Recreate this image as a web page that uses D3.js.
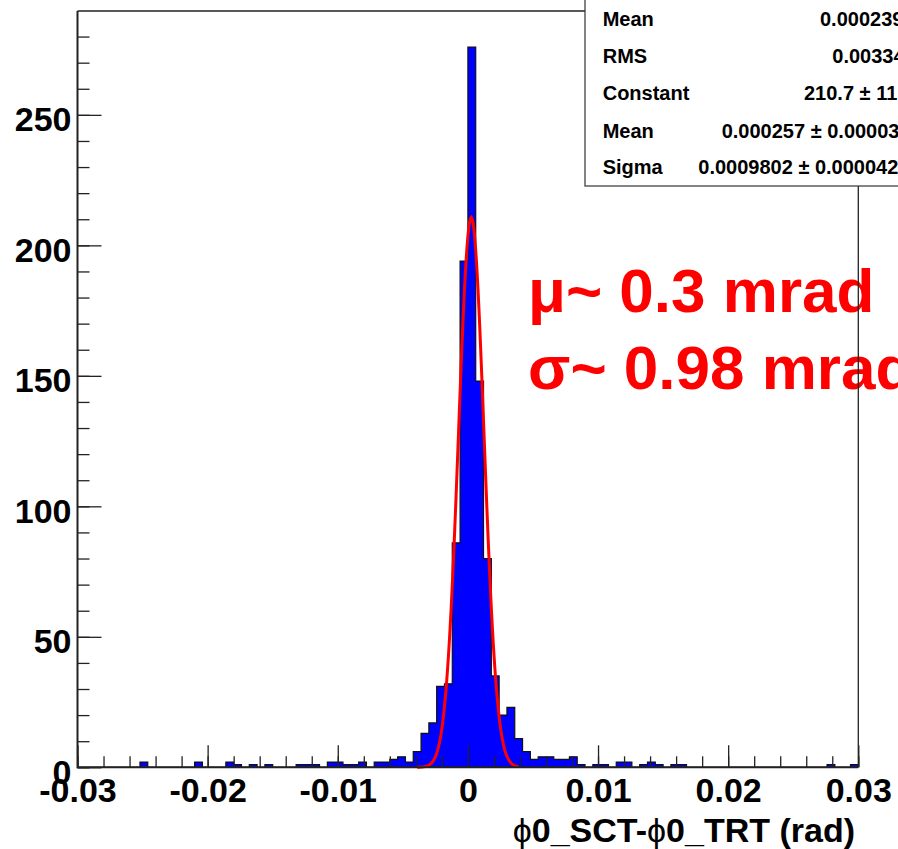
<!DOCTYPE html>
<html>
<head>
<meta charset="utf-8">
<script src="https://cdn.jsdelivr.net/npm/d3@7"></script>
<style>
  html, body { margin: 0; padding: 0; background: #ffffff; }
  svg { display: block; }
</style>
</head>
<body>
<svg id="chart" width="898" height="849"></svg>
<script>
// ---------------- data ----------------
const xDomain = [-0.03, 0.03];           // histogram range (rad)
const yMax = 289.8;                      // y-axis maximum
// 100 bins of 0.0006 rad, counts
const binCounts = [
  0,0,0,0,0,0,0,0,2,0,
  0,0,0,0,0,2,0,0,0,2,
  1,0,1,0,1,0,0,0,1,1,
  1,0,2,2,1,1,2,0,2,2,
  3,4,2,6,13,17,31,32,86,194,
  276,148,80,35,20,23,11,6,3,4,
  4,3,3,4,1,0,1,1,0,2,
  2,0,1,2,1,0,1,1,0,0,
  0,0,0,0,0,0,0,0,0,0,
  0,0,0,0,0,0,1,0,0,1
];
const xMajorTicks = [-0.03, -0.02, -0.01, 0, 0.01, 0.02, 0.03];
const xMinorTicks = d3.range(-15, 16).map(i => i * 0.002);
const yMajorTicks = [0, 50, 100, 150, 200, 250];
const yMinorTicks = d3.range(0, 29).map(i => i * 10);
// Gaussian fit parameters (from the stats box)
const fitConstant = 210.7;
const fitMean = 0.000257;
const fitSigma = 0.0009802;
const fitRange = [-0.0039, 0.0039];
// stats box rows
const statLabels = ["Mean", "RMS", "Constant", "Mean", "Sigma"];
const statValues = ["0.000239", "0.00334", "210.7 \u00b1 11.1", "0.000257 \u00b1 0.000034", "0.0009802 \u00b1 0.0000429"];
const annotations = ["\u03bc~ 0.3 mrad", "\u03c3~ 0.98 mrad"];
const xTitle = ["\u03d5", "0_SCT-", "\u03d5", "0_TRT (rad)"];

// ---------------- layout ----------------
const L = 77.5, R = 858.3, T = 11, B = 767.3;
const FONT = "'Liberation Sans', Arial, Helvetica, sans-serif";

const svg = d3.select("#chart");
svg.append("rect").attr("width", 898).attr("height", 849).attr("fill", "#fff");

const x = d3.scaleLinear().domain(xDomain).range([L, R]);
const y = d3.scaleLinear().domain([0, yMax]).range([B, T]);

const nBins = binCounts.length;
const bw = (xDomain[1] - xDomain[0]) / nBins;
const bins = binCounts.map((c, i) => ({ x0: xDomain[0] + i * bw, x1: xDomain[0] + (i + 1) * bw, c }));

// step contour of the histogram
const stepPts = [];
bins.forEach(b => { stepPts.push([b.x0, b.c]); stepPts.push([b.x1, b.c]); });

// histogram fill (single area, no seams)
svg.append("path")
  .attr("d", d3.area().x(d => x(d[0])).y0(y(0)).y1(d => y(d[1]))(stepPts))
  .attr("fill", "#0000ff");

// histogram outline
svg.append("path")
  .attr("d", d3.line().x(d => x(d[0])).y(d => y(d[1]))(stepPts))
  .attr("fill", "none").attr("stroke", "#111").attr("stroke-width", 1.2);

// Gaussian fit curve
const gauss = v => fitConstant * Math.exp(-0.5 * Math.pow((v - fitMean) / fitSigma, 2));
const nPts = 120;
const fitXs = d3.range(nPts + 1).map(i => fitRange[0] + (fitRange[1] - fitRange[0]) * i / nPts);
svg.append("path")
  .attr("d", d3.line().x(v => x(v)).y(v => y(gauss(v)))(fitXs))
  .attr("fill", "none").attr("stroke", "#ff0000").attr("stroke-width", 3);

// red annotations
svg.append("g").selectAll("text").data(annotations).join("text")
  .attr("x", 528)
  .attr("y", (d, i) => [311.5, 388.5][i])
  .attr("font-family", FONT).attr("font-weight", "bold").attr("font-size", 62)
  .attr("fill", "#ff0000")
  .text(d => d);

// axes: ticks inside the frame
function styleAxis(g) {
  g.select(".domain").remove();
  g.selectAll(".tick line").attr("stroke", "#222").attr("stroke-width", 1.3);
  g.selectAll("text").attr("font-family", FONT).attr("font-weight", "bold")
    .attr("font-size", 34).attr("fill", "#000");
}
svg.append("g").attr("transform", `translate(${L},0)`)
  .call(d3.axisLeft(y).tickValues(yMinorTicks).tickSizeInner(-12).tickSizeOuter(0).tickFormat(""))
  .call(styleAxis);
const yAx = svg.append("g").attr("transform", `translate(${L},0)`)
  .call(d3.axisLeft(y).tickValues(yMajorTicks).tickSizeInner(-24).tickSizeOuter(0).tickPadding(6).tickFormat(d => String(d)))
  .call(styleAxis);
yAx.selectAll("text").attr("dy", "0.47em");

svg.append("g").attr("transform", `translate(0,${B})`)
  .call(d3.axisBottom(x).tickValues(xMinorTicks).tickSizeInner(-11).tickSizeOuter(0).tickFormat(""))
  .call(styleAxis);
svg.append("g").attr("transform", `translate(0,${B})`)
  .call(d3.axisBottom(x).tickValues(xMajorTicks).tickSizeInner(-22).tickSizeOuter(0).tickPadding(11)
    .tickFormat(d => Math.abs(d) < 1e-12 ? "0" : d.toFixed(2)))
  .call(styleAxis);

// frame
svg.append("path").attr("d", `M${L},${T}H${R}V${B}`).attr("fill", "none").attr("stroke", "#222").attr("stroke-width", 1.3);
svg.append("path").attr("d", `M${L},${T}V${B}H${R}`).attr("fill", "none").attr("stroke", "#222").attr("stroke-width", 2);

// x title
const xt = svg.append("text")
  .attr("x", 855).attr("y", 841.5).attr("text-anchor", "end")
  .attr("font-family", FONT).attr("font-weight", "bold").attr("font-size", 34).attr("fill", "#000");
xt.selectAll("tspan").data(xTitle).join("tspan")
  .attr("font-weight", (d, i) => i % 2 === 0 ? "normal" : "bold")
  .text(d => d);

// stats box
const box = svg.append("g");
box.append("rect").attr("x", 585).attr("y", -5).attr("width", 400).attr("height", 191)
  .attr("fill", "#fff").attr("stroke", "#333").attr("stroke-width", 1.2);
const rowY = [25.7, 63, 100.3, 137.7, 174];
const valX = [820, 832.3, 804, 721.7, 698.3];
box.selectAll("text.lab").data(statLabels).join("text").attr("class", "lab")
  .attr("x", 602.7).attr("y", (d, i) => rowY[i])
  .attr("font-family", FONT).attr("font-weight", "bold").attr("font-size", 20).attr("fill", "#000")
  .text(d => d);
box.selectAll("text.val").data(statValues).join("text").attr("class", "val")
  .attr("x", (d, i) => valX[i]).attr("y", (d, i) => rowY[i])
  .attr("font-family", FONT).attr("font-weight", "bold").attr("font-size", 20).attr("fill", "#000")
  .text(d => d);
</script>
</body>
</html>
